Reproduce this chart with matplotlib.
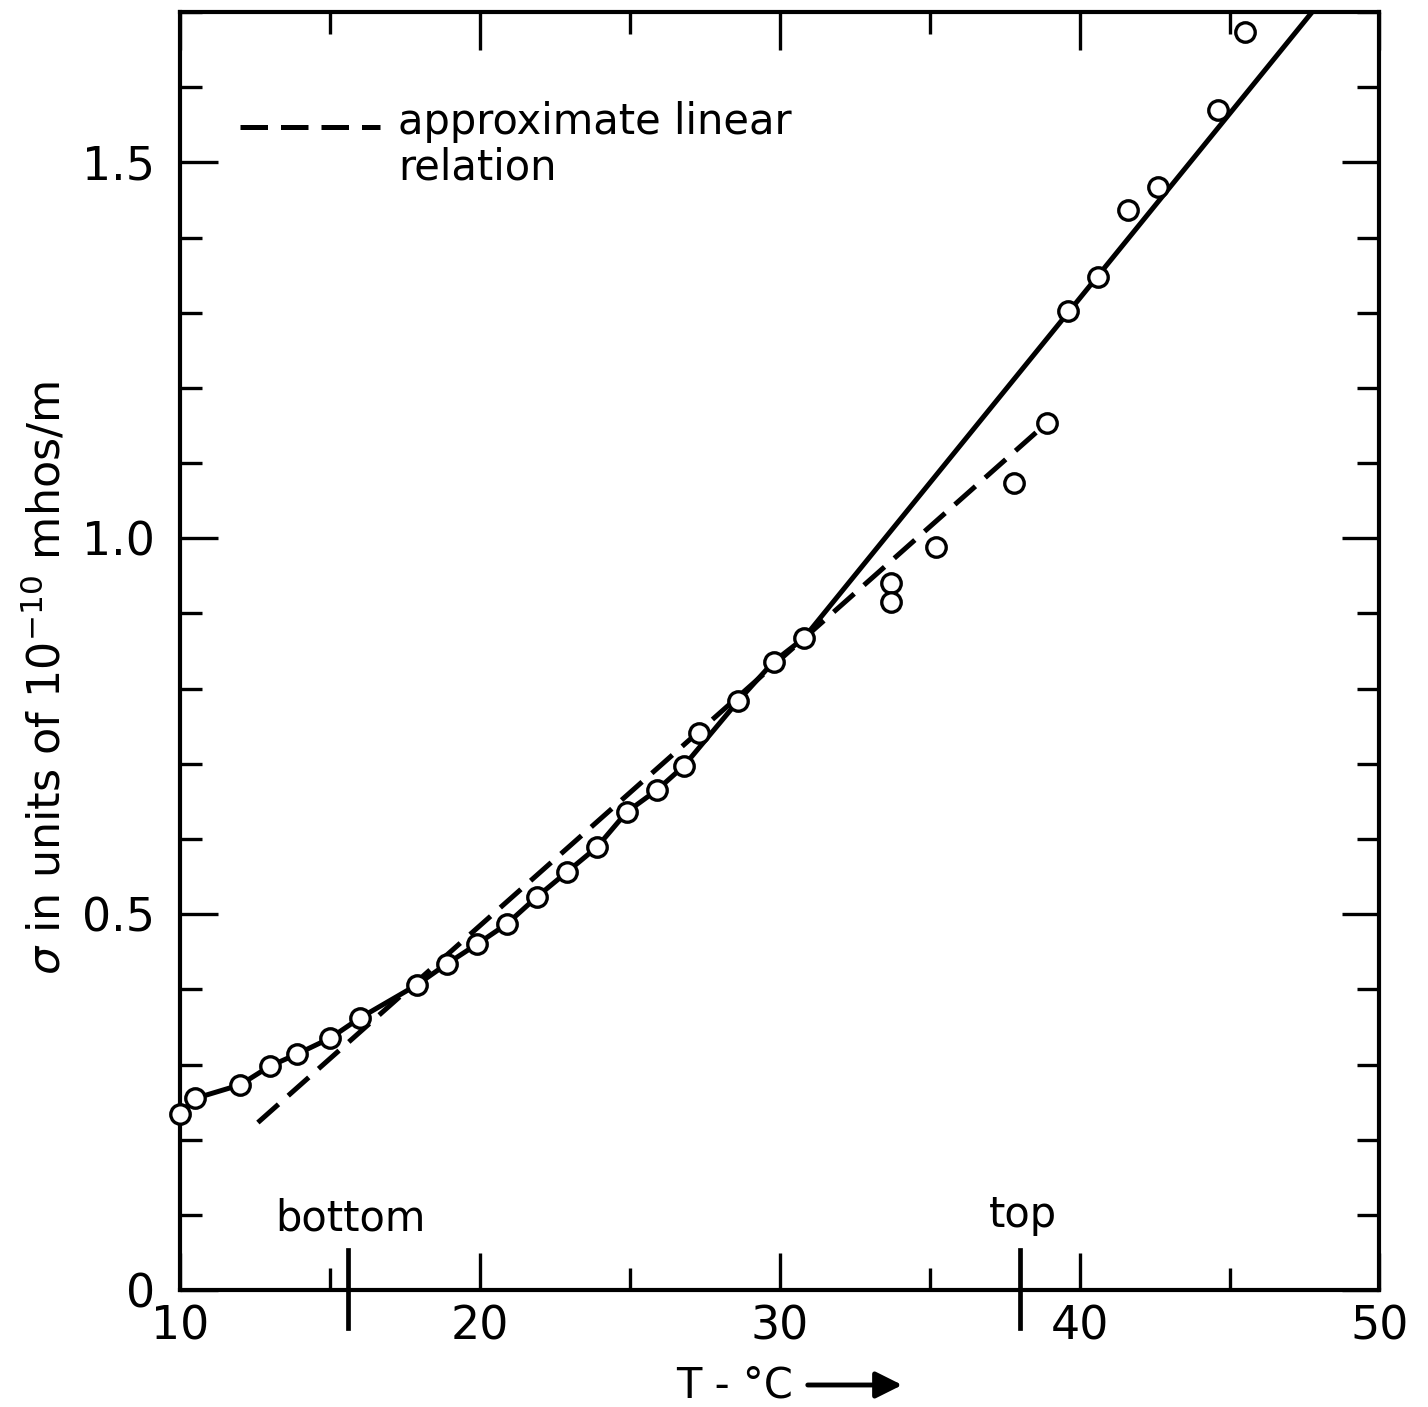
import numpy as np
import matplotlib.pyplot as plt
from matplotlib.ticker import MultipleLocator, FixedLocator

# measured points (T in deg C, sigma in 1e-10 mhos/m)
T_obs = [10.0, 10.5, 12.0, 13.0, 13.9, 15.0, 16.0, 17.9, 18.9, 19.9, 20.9,
         21.9, 22.9, 23.9, 24.9, 25.9, 26.8, 27.3, 28.6, 29.8, 30.8, 33.7,
         33.7, 35.2, 37.8, 38.9, 39.6, 40.6, 41.6, 42.6, 44.6, 45.5]
sigma_obs = [0.235, 0.255, 0.273, 0.298, 0.314, 0.335, 0.362, 0.406, 0.434,
             0.460, 0.487, 0.523, 0.556, 0.589, 0.636, 0.665, 0.697, 0.741,
             0.783, 0.836, 0.867, 0.940, 0.915, 0.989, 1.074, 1.153, 1.302,
             1.347, 1.436, 1.467, 1.570, 1.674]

# drawn curve
T_curve = [10.0, 10.5, 12.0, 13.0, 13.9, 15.0, 16.0, 17.9, 18.9, 19.9, 20.9,
           21.9, 22.9, 23.9, 24.9, 25.9, 26.8, 28.6, 29.8, 30.8, 47.9]
sigma_curve = [0.235, 0.255, 0.273, 0.298, 0.314, 0.335, 0.362, 0.406, 0.434,
               0.460, 0.487, 0.523, 0.556, 0.589, 0.636, 0.665, 0.697, 0.783,
               0.836, 0.867, 1.707]

# approximate linear relation
T_lin = [12.6, 38.7]
sigma_lin = [0.223, 1.146]

# bottom / top temperatures
T_bottom = 15.6
T_top = 38.0

plt.rcParams['font.family'] = 'DejaVu Sans'

fig = plt.figure(figsize=(14.28, 14.07), dpi=100)
ax = fig.add_axes([0.126, 0.083, 0.840, 0.9085])

ax.plot(T_curve, sigma_curve, color='black', lw=3.6, solid_capstyle='butt')
ax.plot(T_lin, sigma_lin, color='black', lw=3.6, dashes=(5.5, 2.6))
ax.plot(T_obs, sigma_obs, 'o', ms=14, mfc='white', mec='black', mew=2.4,
        clip_on=False, zorder=5)

ax.set_xlim(10, 50)
ax.set_ylim(0, 1.70)

ax.xaxis.set_major_locator(MultipleLocator(10))
ax.xaxis.set_minor_locator(FixedLocator([15, 25, 35, 45]))
ax.yaxis.set_major_locator(FixedLocator([0, 0.5, 1.0, 1.5]))
ax.yaxis.set_minor_locator(MultipleLocator(0.1))
ax.set_yticklabels(['0', '0.5', '1.0', '1.5'])

ax.tick_params(which='both', direction='in', top=True, right=True,
               width=2.4, labelsize=33, color='black')
ax.tick_params(which='major', length=27)
ax.tick_params(which='minor', length=16)
ax.tick_params(axis='x', pad=10)
ax.tick_params(axis='y', pad=18)
for s in ax.spines.values():
    s.set_linewidth(3)

# long marks for bottom and top
for t in (T_bottom, T_top):
    ax.plot([t, t], [-0.05, 0.054], color='black', lw=3.4, clip_on=False)
ax.text(15.7, 0.095, 'bottom', fontsize=30, ha='center', va='center')
ax.text(38.1, 0.10, 'top', fontsize=30, ha='center', va='center')

# legend
ax.plot([0.05, 0.167], [0.91, 0.91], transform=ax.transAxes, color='black',
        lw=3.6, dashes=(5.5, 2.6))
ax.text(0.182, 0.93, 'approximate linear\nrelation', transform=ax.transAxes,
        fontsize=30, ha='left', va='top', linespacing=1.1)

ax.set_ylabel(r'$\sigma$ in units of 10$^{-10}$ mhos/m', fontsize=32)
ax.yaxis.set_label_coords(-0.092, 0.479)

fig.text(735 / 1428, 1 - 1385 / 1407, 'T - °C', fontsize=30,
         ha='center', va='center')
fig.add_artist(plt.matplotlib.patches.FancyArrowPatch(
    (805 / 1428, 1 - 1385 / 1407), (905 / 1428, 1 - 1385 / 1407),
    transform=fig.transFigure, arrowstyle='-|>', mutation_scale=40,
    lw=3.5, color='black'))

fig.savefig('out.png', dpi=100)
